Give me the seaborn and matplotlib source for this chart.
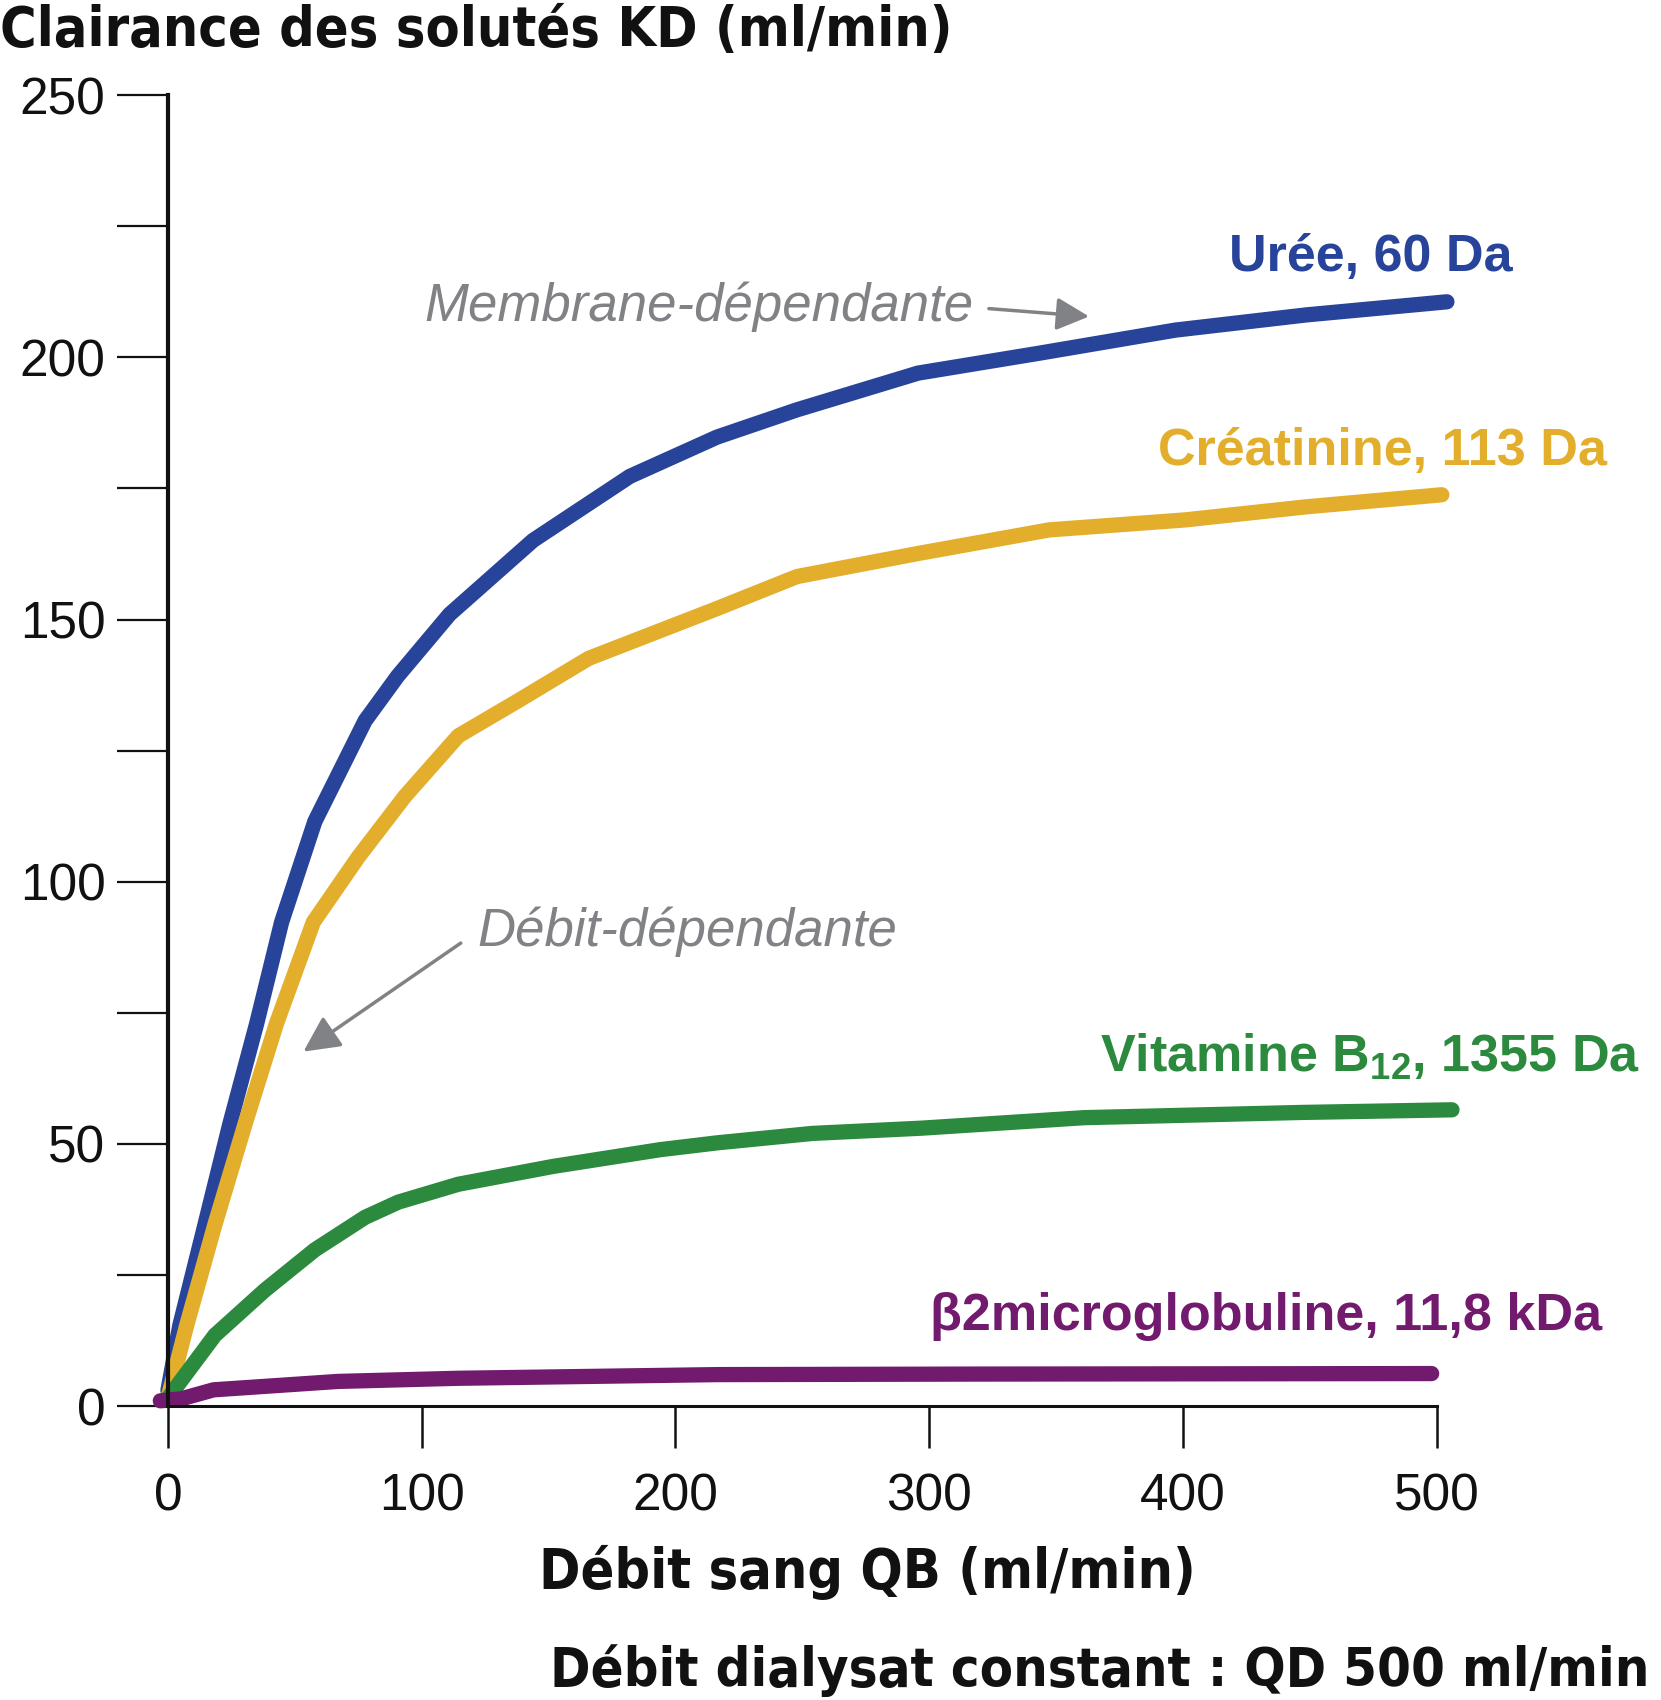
import numpy as np
import pandas as pd
import matplotlib
matplotlib.use("Agg")
import matplotlib.pyplot as plt
import seaborn as sns

# Data (QB in ml/min, KD in ml/min)
uree_qb = [0, 4.7, 14.6, 24.4, 35, 44.8, 57.9, 77.7, 90.5, 111, 143.9, 182,
           216.4, 247.9, 295.6, 343.4, 397, 448.6, 504]
uree_kd = [3, 15.4, 34.6, 53.8, 73, 92.3, 111.5, 130.7, 139.2, 151, 165.1,
           177.3, 184.8, 190, 197, 200.8, 205.2, 208.1, 210.6]

creat_qb = [0, 7.4, 18.5, 30.4, 42.8, 50.1, 57.3, 75, 93.4, 114.4, 137.6,
            165.8, 216.4, 247.9, 295.6, 347.3, 400.8, 448.6, 502]
creat_kd = [1.5, 15.4, 34.6, 53.8, 73, 82.7, 92.3, 104.7, 116.3, 127.8, 134.4,
            142.6, 152.1, 158.2, 162.6, 167.1, 169, 171.5, 173.8]

vitb12_qb = [0, 18.5, 38.2, 57.9, 77.7, 90.8, 114.4, 151.7, 194, 216.4, 254,
             297, 361, 447, 506]
vitb12_kd = [1.5, 13.5, 22.1, 29.8, 36, 38.9, 42.3, 45.7, 48.9, 50.2, 52,
             53, 55, 56, 56.5]

b2m_qb = [-3, 5.4, 18, 67, 114.4, 216.4, 318, 498]
b2m_kd = [1, 1.4, 3.1, 4.7, 5.3, 6, 6.1, 6.2]

solutes = ["Urée", "Créatinine", "Vitamine B12", "b2m"]
labels = ["Urée, 60 Da", "Créatinine, 113 Da",
          r"Vitamine B$\mathbf{_{12}}$, 1355 Da", "β2microglobuline, 11,8 kDa"]
colors = ["#27449a", "#e2ae2c", "#2c8a3e", "#721b6e"]
label_pos = [(530, 219), (567, 182), (580, 66.5), (565, 17)]

x_ticks = [0, 100, 200, 300, 400, 500]
y_ticks = [0, 50, 100, 150, 200, 250]

df = pd.concat([
    pd.DataFrame({"QB": uree_qb, "KD": uree_kd, "solute": solutes[0]}),
    pd.DataFrame({"QB": creat_qb, "KD": creat_kd, "solute": solutes[1]}),
    pd.DataFrame({"QB": vitb12_qb, "KD": vitb12_kd, "solute": solutes[2]}),
    pd.DataFrame({"QB": b2m_qb, "KD": b2m_kd, "solute": solutes[3]}),
])

sns.set_theme(style="ticks")
plt.rcParams["font.family"] = ["Liberation Sans", "DejaVu Sans"]
plt.rcParams["mathtext.fontset"] = "custom"
plt.rcParams["mathtext.bf"] = "Liberation Sans:bold"
plt.rcParams["mathtext.rm"] = "Liberation Sans"

fig = plt.figure(figsize=(16.61, 17.0), dpi=100)
ax = fig.add_axes([0.1011, 0.1729, 0.7639, 0.7711])

sns.lineplot(data=df, x="QB", y="KD", hue="solute", hue_order=solutes,
             palette=colors, linewidth=11, legend=False, sort=False,
             estimator=None, ax=ax)
for ln in ax.lines:
    ln.set_solid_capstyle("round")
    ln.set_solid_joinstyle("round")
    ln.set_clip_on(False)

ax.set_xlim(0, 500)
ax.set_ylim(0, 250)
ax.set_xticks(x_ticks)
ax.set_yticks(y_ticks)
ax.set_yticks(np.arange(25, 250, 50), minor=True)
ax.tick_params(axis="y", which="both", direction="out", length=37, width=1.6,
               color="#111111", pad=8, labelsize=37, labelcolor="#111111")
ax.tick_params(axis="x", direction="out", length=30, width=1.8,
               color="#111111", pad=18, labelsize=37, labelcolor="#111111")
sns.despine(ax=ax)
ax.spines["left"].set_linewidth(3)
ax.spines["bottom"].set_linewidth(2.2)
ax.spines["left"].set_color("#111111")
ax.spines["bottom"].set_color("#111111")
ax.set_ylabel("")

cond = dict(family="DejaVu Sans", fontstretch="condensed", fontweight="bold",
            color="#111111")
ax.set_xlabel("Débit sang QB (ml/min)", va="baseline", ha="center",
              fontsize=40, **cond)
ax.xaxis.set_label_coords(0.551, -0.1389)

fig.text(0.0, 0.9732, "Clairance des solutés KD (ml/min)",
         va="baseline", ha="left", fontsize=40, **cond)
fig.text(0.331, 0.0082, "Débit dialysat constant : QD 500 ml/min",
         va="baseline", ha="left", fontsize=39, **cond)

for lab, col, (px, py) in zip(labels, colors, label_pos):
    ax.text(px, py, lab, color=col, fontsize=37.5, fontweight="bold",
            ha="right", va="center", clip_on=False)

gray = "#808285"
ax.text(101, 209.7, "Membrane-dépendante", color=gray, fontsize=38,
        style="italic", ha="left", va="center")
ax.annotate("", xy=(363, 207.8), xytext=(323.5, 209.3),
            arrowprops=dict(arrowstyle="-|>", color=gray, lw=2.5,
                            mutation_scale=50, shrinkA=0, shrinkB=0))
ax.text(122, 90.4, "Débit-dépendante", color=gray, fontsize=38,
        style="italic", ha="left", va="center")
ax.annotate("", xy=(53.4, 67.6), xytext=(115.4, 88.3),
            arrowprops=dict(arrowstyle="-|>", color=gray, lw=2.5,
                            mutation_scale=55, shrinkA=0, shrinkB=0))

fig.savefig("out.png", dpi=100, facecolor="white")
